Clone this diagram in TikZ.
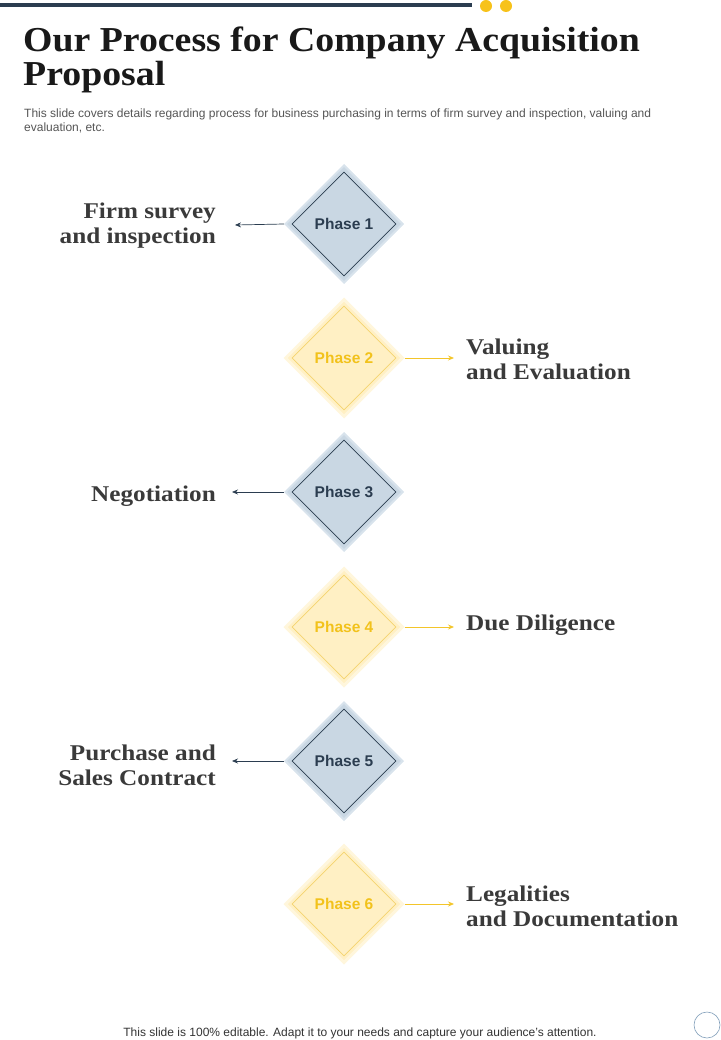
\documentclass[tikz,border=0pt]{standalone}
\usepackage{fontspec}
\setmainfont{Liberation Serif}
\setsansfont{Liberation Sans}
\newfontfamily\titlefont[FakeStretch=1.08]{Liberation Serif}
\newfontfamily\labelfont[FakeStretch=1.12]{Liberation Serif}
\usetikzlibrary{shapes.geometric,arrows.meta}
\definecolor{navy}{HTML}{2B3D50}
\definecolor{bluefill}{HTML}{C9D7E3}
\definecolor{bluehalo}{HTML}{D8E3EC}
\definecolor{yelfill}{HTML}{FFF0C4}
\definecolor{yelhalo}{HTML}{FFF6DC}
\definecolor{yelline}{HTML}{F5D46E}
\definecolor{yeltext}{HTML}{F2C21B}
\definecolor{yelarrow}{HTML}{F3C52A}
\definecolor{labelgray}{HTML}{3A3A3A}
\definecolor{subgray}{HTML}{555555}
\definecolor{dotyel}{HTML}{F7C21A}
\definecolor{circblue}{HTML}{7F9DB8}
\tikzset{
  outerblue/.style={diamond,aspect=1,minimum width=118pt,minimum height=118pt,inner sep=0pt,fill=bluefill,draw=bluehalo,line width=2pt},
  outeryel/.style={diamond,aspect=1,minimum width=118pt,minimum height=118pt,inner sep=0pt,fill=yelfill,draw=yelhalo,line width=3pt},
  innerblue/.style={diamond,aspect=1,minimum width=104pt,minimum height=104pt,inner sep=0pt,draw=navy,line width=0.6pt,text=navy,font=\sffamily\bfseries\fontsize{15.5}{17}\selectfont},
  inneryel/.style={diamond,aspect=1,minimum width=104pt,minimum height=104pt,inner sep=0pt,draw=yelline,line width=0.8pt,text=yeltext,font=\sffamily\bfseries\fontsize{15.5}{17}\selectfont},
  labelL/.style={anchor=east,align=right,inner sep=0pt,text=labelgray,font=\labelfont\bfseries\fontsize{22.5}{25}\selectfont},
  labelR/.style={anchor=west,align=left,inner sep=0pt,text=labelgray,font=\labelfont\bfseries\fontsize{22.5}{25}\selectfont},
  arrowblue/.style={draw=navy,line width=0.7pt,-{Stealth[length=6pt,width=5pt]}},
  arrowyel/.style={draw=yelarrow,line width=0.8pt,-{Stealth[length=6pt,width=5pt]}},
}
\begin{document}
\begin{tikzpicture}[x=1pt,y=-1pt]
\useasboundingbox (0,0) rectangle (720,1040);
% top bar
\draw[navy,line width=4pt] (0,5) -- (472,5);
\fill[dotyel] (486,6) circle (6);
\fill[dotyel] (506,6) circle (6);
% title
\node[anchor=base west,inner sep=0pt,text=black!90,font=\titlefont\bfseries\fontsize{35}{34}\selectfont] (t1) at (23,52) {Our Process for Company Acquisition};
\node[anchor=base west,inner sep=0pt,text=black!90,font=\titlefont\bfseries\fontsize{35}{34}\selectfont] (t2) at (23,86) {Proposal};
\node[anchor=base west,inner sep=0pt,text=subgray,font=\sffamily\fontsize{12}{14}\selectfont] (s1) at (24,118) {This slide covers details regarding process for business purchasing in terms of firm survey and inspection, valuing and};
\node[anchor=base west,inner sep=0pt,text=subgray,font=\sffamily\fontsize{12}{14}\selectfont] (s2) at (24,132) {evaluation, etc.};
% phases
\node[outerblue] (o1) at (344,224) {};
\node[innerblue] (p1) at (344,224) {Phase 1};
\node[outeryel] (o2) at (344,358) {};
\node[inneryel] (p2) at (344,358) {Phase 2};
\node[outerblue] (o3) at (344,492) {};
\node[innerblue] (p3) at (344,492) {Phase 3};
\node[outeryel] (o4) at (344,627) {};
\node[inneryel] (p4) at (344,627) {Phase 4};
\node[outerblue] (o5) at (344,761) {};
\node[innerblue] (p5) at (344,761) {Phase 5};
\node[outeryel] (o6) at (344,904) {};
\node[inneryel] (p6) at (344,904) {Phase 6};
% labels
\node[labelL] (l1) at (216,226) {Firm survey\\and inspection};
\node[labelR] (l2) at (466,359) {Valuing\\and Evaluation};
\node[labelL] (l3) at (216,496) {Negotiation};
\node[labelR] (l4) at (466,625) {Due Diligence};
\node[labelL] (l5) at (216,765) {Purchase and\\Sales Contract};
\node[labelR] (l6) at (466,906) {Legalities\\and Documentation};
% connectors
\coordinate (a1) at (235,225);
\coordinate (a2) at (454,358);
\coordinate (a3) at (232,492);
\coordinate (a4) at (454,627);
\coordinate (a5) at (232,761);
\coordinate (a6) at (454,904);
\draw[arrowblue] (o1.west) -- (a1);
\draw[arrowyel] (o2.east) -- (a2);
\draw[arrowblue] (o3.west) -- (a3);
\draw[arrowyel] (o4.east) -- (a4);
\draw[arrowblue] (o5.west) -- (a5);
\draw[arrowyel] (o6.east) -- (a6);
% footer
\node[anchor=base,inner sep=0pt,text=black!80,font=\sffamily\fontsize{12}{14}\selectfont] (f) at (360,1036) {This slide is 100\% editable. Adapt it to your needs and capture your audience’s attention.};
\draw[circblue,line width=0.6pt] (707,1025) circle (13);
\end{tikzpicture}
\end{document}
